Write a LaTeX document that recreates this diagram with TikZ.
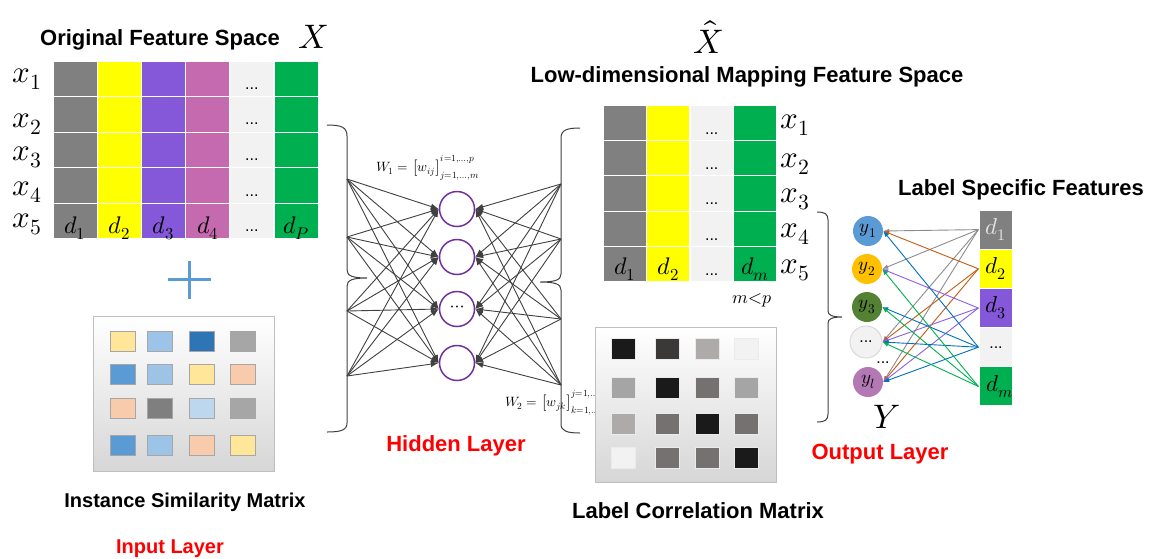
\documentclass[tikz,border=0pt]{standalone}
\usepackage{fontspec}
\setmainfont{Liberation Sans}
\usepackage{unicode-math}
\setmathfont{Latin Modern Math}
\usetikzlibrary{arrows.meta}

% feature colours
\definecolor{fgray}{HTML}{808080}
\definecolor{fyellow}{HTML}{FFFF00}
\definecolor{fpurple}{HTML}{8458D8}
\definecolor{fpink}{HTML}{C66AB0}
\definecolor{flight}{HTML}{F2F2F2}
\definecolor{fgreen}{HTML}{00B050}
% network and labels
\definecolor{netline}{HTML}{404040}
\definecolor{hidpurple}{HTML}{7030A0}
\definecolor{plusblue}{HTML}{5B9BD5}
\definecolor{layerred}{HTML}{FF0000}
\definecolor{boxborder}{HTML}{BFBFBF}
% similarity matrix squares
\definecolor{sy}{HTML}{FFE699}
\definecolor{sl}{HTML}{9DC3E6}
\definecolor{sd}{HTML}{2E75B6}
\definecolor{sg}{HTML}{A6A6A6}
\definecolor{sm}{HTML}{5B9BD5}
\definecolor{sp}{HTML}{F8CBAD}
\definecolor{sdg}{HTML}{7F7F7F}
\definecolor{sxl}{HTML}{BDD7EE}
% correlation matrix squares
\definecolor{cA}{HTML}{1A1A1A}
\definecolor{cB}{HTML}{3B3838}
\definecolor{cC}{HTML}{AEAAAA}
\definecolor{cD}{HTML}{F2F2F2}
\definecolor{cE}{HTML}{A5A5A5}
\definecolor{cF}{HTML}{767171}
% output labels
\definecolor{oblue}{HTML}{5B9BD5}
\definecolor{oorange}{HTML}{FFC000}
\definecolor{ogreen}{HTML}{548235}
\definecolor{opink}{HTML}{B478B4}
\definecolor{eorange}{HTML}{C55A11}
\definecolor{epurple}{HTML}{8C5FE6}
\definecolor{eblue}{HTML}{0070C0}
\definecolor{egreen}{HTML}{00B050}
\definecolor{egray}{HTML}{8C8C8C}

\newcommand\pxfont[1]{\fontsize{#1}{#1}\selectfont}

\begin{document}
\begin{tikzpicture}[x=1pt,y=-1pt,
  title/.style={font=\pxfont{22}\bfseries, anchor=base, inner sep=0},
  subtitle/.style={font=\pxfont{20}\bfseries, anchor=base, inner sep=0},
  layer/.style={text=layerred},
  cell/.style={draw=white, line width=1.3pt, inner sep=0, minimum width=44.2pt, minimum height=35.6pt},
  rcell/.style={cell, minimum width=43.5pt, minimum height=35.4pt},
  rowlab/.style={font=\pxfont{31}, anchor=base, inner sep=0},
  celllab/.style={font=\pxfont{24}, anchor=base, inner sep=0},
  celldots/.style={font=\pxfont{16}, anchor=base, inner sep=0},
  hid/.style={circle, draw=hidpurple, line width=1.5pt, fill=white, minimum size=35pt, inner sep=0},
  net/.style={draw=netline, line width=0.9pt, -{Latex[length=8pt,width=6pt]}},
  brace/.style={draw=black!75, line width=1pt},
  mbox/.style={draw=boxborder, line width=1pt, top color=white, bottom color=black!16, minimum width=181pt, minimum height=155pt, inner sep=0},
  sq/.style={draw=sg, line width=0.8pt, minimum width=25pt, minimum height=20pt, inner sep=0},
  csq/.style={draw=black!8, line width=0.8pt, minimum width=24pt, minimum height=21pt, inner sep=0},
  lab/.style={circle, minimum size=30pt, inner sep=0, font=\pxfont{19}},
  spec/.style={line width=0.9pt, -{Latex[length=6pt,width=4.5pt]}},
  wlab/.style={font=\pxfont{13.5}, anchor=base west, inner sep=0}
]
\useasboundingbox (0,0) rectangle (1150,558);

% ---------- original feature space ----------
\node[title] (tOrig) at (160,45) {Original Feature Space};
\node[font=\pxfont{34}, anchor=base, inner sep=0] (X) at (313,48) {$X$};

\foreach \c/\col in {1/fgray,2/fyellow,3/fpurple,4/fpink,5/flight,6/fgreen}{
  \foreach \r in {1,...,5}{
    \node[cell, fill=\col] (L-\r-\c) at ({53+22.1+44.2*(\c-1)},{61+17.8+35.6*(\r-1)}) {};
  }
}
\foreach \r in {1,...,5}
  \node[celldots] (Ldots-\r) at ([yshift=8pt]L-\r-5.south) {...};
\foreach \c/\t in {1/d_1,2/d_2,3/d_3,4/d_4,6/d_P}
  \node[celllab] (Ld-\c) at ([yshift=6pt]L-5-\c.south) {$\t$};
\foreach \r/\b in {1/82,2/127,3/160,4/195,5/227}
  \node[rowlab] (Lx-\r) at (27,\b) {$x_\r$};

% plus sign
\draw[plusblue, line width=3pt] (168,279) -- (211,279);
\draw[plusblue, line width=3pt] (189,261) -- (189,299);

% ---------- instance similarity matrix ----------
\node[mbox] (simbox) at (183.5,393.5) {};
\foreach \r/\y/\ca/\cb/\cc/\cd in {1/341/sy/sl/sd/sg, 2/374/sm/sl/sy/sp, 3/408/sp/sdg/sxl/sg, 4/445/sm/sl/sp/sy}{
  \node[sq, fill=\ca] (S-\r-1) at (123,\y) {};
  \node[sq, fill=\cb] (S-\r-2) at (160,\y) {};
  \node[sq, fill=\cc] (S-\r-3) at (202,\y) {};
  \node[sq, fill=\cd] (S-\r-4) at (243,\y) {};
}
\node[subtitle] (tSim) at (185,507) {Instance Similarity Matrix};
\node[subtitle, layer] (tIn) at (170,553) {Input Layer};

% ---------- hidden layer ----------
\draw[brace] (327,125) .. controls (341,125) and (347,127) .. (347,136) -- (347,270)
  .. controls (347,276) and (353,278) .. (367,278)
  .. controls (353,278) and (347,280) .. (347,286) -- (347,423)
  .. controls (347,430) and (341,432) .. (327,432);
\draw[brace] (580,128) .. controls (567,128) and (561,130) .. (561,138) -- (561,274)
  .. controls (561,280) and (555,282) .. (540,282)
  .. controls (555,282) and (561,284) .. (561,290) -- (561,424)
  .. controls (561,431) and (567,433) .. (580,433);

\node[hid] (h1) at (457,209) {};
\node[hid] (h2) at (457,257) {};
\node[hid, font=\pxfont{18}] (h3) at (457,309) {$\cdots$};
\node[hid] (h4) at (457,363) {};

\foreach \i/\y in {1/179,2/237,3/311,4/376} \coordinate (in\i) at (347,\y);
\foreach \i/\y in {1/184,2/239,3/319,4/385} \coordinate (out\i) at (561,\y);
\foreach \i in {1,...,4}{
  \foreach \j in {1,...,4}{
    \draw[net] (in\i) -- (h\j.west);
    \draw[net] (out\i) -- (h\j.east);
  }
}
\node[wlab] (W1) at (376,171) {$W_1=\left[w_{ij}\right]_{j=1,\ldots,m}^{i=1,\ldots,p}$};
\node[wlab] (W2) at (505,406) {$W_2=\left[w_{jk}\right]_{k=1,\ldots,l}^{j=1,\ldots,m}$};
\node[title, layer] (tHid) at (456,451) {Hidden Layer};

% ---------- low-dimensional mapping feature space ----------
\node[font=\pxfont{34}, anchor=base, inner sep=0] (Xhat) at (708,53) {$\hat{X}$};
\node[title] (tLow) at (747,82) {Low-dimensional Mapping Feature Space};
\foreach \c/\col in {1/fgray,2/fyellow,3/flight,4/fgreen}{
  \foreach \r in {1,...,5}{
    \node[rcell, fill=\col] (R-\r-\c) at ({603+21.75+43.5*(\c-1)},{105+17.7+35.4*(\r-1)}) {};
  }
}
\foreach \r in {1,...,5}
  \node[celldots] (Rdots-\r) at ([yshift=7pt]R-\r-3.south) {...};
\foreach \c/\t in {1/d_1,2/d_2,4/d_m}
  \node[celllab] (Rd-\c) at ([yshift=8pt]R-5-\c.south) {$\t$};
\foreach \r/\b in {1/128,2/167,3/202,4/237,5/273}
  \node[rowlab] (Rx-\r) at (795,\b) {$x_\r$};
\node[font=\pxfont{18}, anchor=base, inner sep=0] (mp) at (752,303) {$m{<}p$};

% ---------- label correlation matrix ----------
\node[mbox] (corbox) at (685.5,404.5) {};
\foreach \r/\y/\ca/\cb/\cc/\cd in {1/349/cA/cB/cC/cD, 2/388/cE/cA/cF/cE, 3/424/cC/cF/cA/cF, 4/458/cD/cF/cF/cA}{
  \node[csq, fill=\ca] (C-\r-1) at (623,\y) {};
  \node[csq, fill=\cb] (C-\r-2) at (667,\y) {};
  \node[csq, fill=\cc] (C-\r-3) at (707,\y) {};
  \node[csq, fill=\cd] (C-\r-4) at (746,\y) {};
}
\node[title] (tCor) at (698,518) {Label Correlation Matrix};

% ---------- output layer ----------
\draw[brace] (817,212) .. controls (825,212) and (828,214) .. (828,220) -- (828,311)
  .. controls (828,315) and (832,317) .. (842,317)
  .. controls (832,317) and (828,319) .. (828,323) -- (828,414)
  .. controls (828,420) and (825,422) .. (817,422);

\node[lab, fill=oblue] (y1) at (868,231) {$y_1$};
\node[lab, fill=oorange] (y2) at (867,269) {$y_2$};
\node[lab, fill=ogreen] (y3) at (867,307) {$y_3$};
\node[lab, fill=flight, draw=black!15, line width=1pt, minimum size=32pt, font=\pxfont{16}] (yd) at (866,342) {...};
\node[lab, fill=opink] (yl) at (868,382) {$y_l$};
\node[celldots] (ydots) at (883,363) {...};
\node[font=\pxfont{34}, anchor=base, inner sep=0] (Ylab) at (887,428) {$Y$};
\node[title, layer] (tOut) at (880,459) {Output Layer};

% label specific features
\node[title] (tSpec) at (1021,195) {Label Specific Features};
\foreach \i/\col in {1/fgray,2/fyellow,3/fpurple,4/flight,5/fgreen}
  \node[draw=white, line width=1.3pt, fill=\col, minimum width=34pt, minimum height=39.2pt, inner sep=0] (rd\i) at (996,{229.6+39.2*(\i-1)}) {};
\node[font=\pxfont{23}, text=white!90!black] (rdt1) at (rd1) {$d_1$};
\node[font=\pxfont{23}] (rdt2) at (rd2) {$d_2$};
\node[font=\pxfont{23}] (rdt3) at (rd3) {$d_3$};
\node[font=\pxfont{16}] (rdt4) at (rd4) {...};
\node[font=\pxfont{23}] (rdt5) at ([xshift=4pt]rd5) {$d_m$};

\foreach \s/\t/\col in {rd1/y1/egray, rd1/y2/egray, rd1/yd/egray, rd1/yl/egray,
                        rd2/y1/eorange, rd2/yd/eorange, rd2/yl/eorange,
                        rd3/y2/epurple, rd3/yd/epurple, rd3/yl/epurple,
                        rd4/y1/eblue, rd4/y3/eblue, rd4/yd/eblue, rd4/yl/eblue,
                        rd5/y2/egreen, rd5/y3/egreen, rd5/yd/egreen}
  \draw[spec, draw=\col] (\s.west) -- (\t.east);
\end{tikzpicture}
\end{document}
